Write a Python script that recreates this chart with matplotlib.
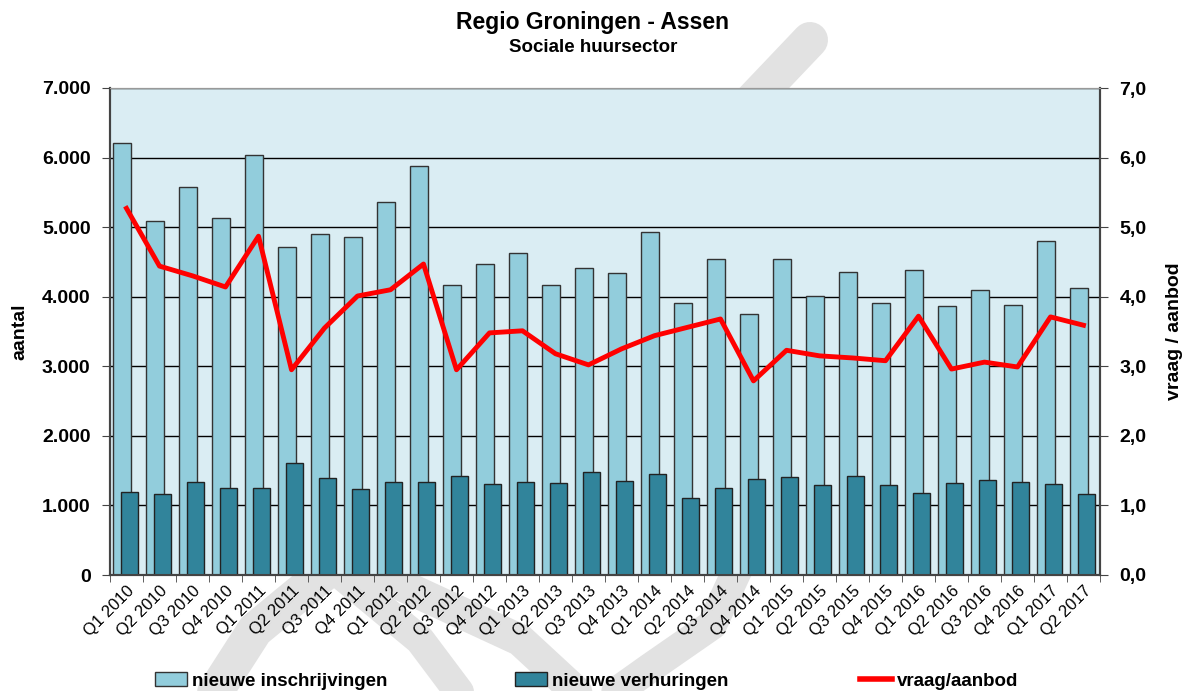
import numpy as np
import matplotlib.pyplot as plt
from matplotlib.lines import Line2D
from matplotlib.patches import Patch
from matplotlib.ticker import FuncFormatter

plt.rcParams['font.family'] = ['Liberation Sans', 'DejaVu Sans']

quarters = ["Q1 2010", "Q2 2010", "Q3 2010", "Q4 2010", "Q1 2011", "Q2 2011", "Q3 2011", "Q4 2011",
            "Q1 2012", "Q2 2012", "Q3 2012", "Q4 2012", "Q1 2013", "Q2 2013", "Q3 2013", "Q4 2013",
            "Q1 2014", "Q2 2014", "Q3 2014", "Q4 2014", "Q1 2015", "Q2 2015", "Q3 2015", "Q4 2015",
            "Q1 2016", "Q2 2016", "Q3 2016", "Q4 2016", "Q1 2017", "Q2 2017"]

inschrijvingen = [6210, 5090, 5580, 5130, 6030, 4710, 4900, 4860, 5360, 5880,
                  4170, 4470, 4630, 4170, 4410, 4340, 4930, 3910, 4540, 3750,
                  4540, 4010, 4360, 3910, 4380, 3870, 4100, 3880, 4800, 4130]

verhuringen = [1200, 1160, 1330, 1255, 1255, 1610, 1395, 1235, 1330, 1330,
               1430, 1310, 1340, 1320, 1480, 1350, 1450, 1110, 1250, 1375,
               1410, 1290, 1430, 1290, 1180, 1320, 1360, 1340, 1310, 1160]

vraag_aanbod = [5.27, 4.44, 4.30, 4.14, 4.87, 2.95, 3.55, 4.01, 4.10, 4.47,
                2.95, 3.48, 3.51, 3.18, 3.02, 3.25, 3.44, 3.56, 3.68, 2.79,
                3.23, 3.15, 3.12, 3.08, 3.72, 2.96, 3.06, 2.99, 3.71, 3.59]

light = "#92CDDC"
dark = "#31849B"
bg = "#DAEDF3"
W, H = 1183, 691

fig = plt.figure(figsize=(W / 100, H / 100), dpi=100)
ax = fig.add_axes([110 / W, 1 - 575 / H, 990 / W, 487 / H])
ax2 = ax.twinx()

# grey watermark strokes behind the plot area (pixel coords from top-left)
strokes = [
    ([(810, 40), (520, 345), (340, 560), (255, 630), (210, 700)], 36),
    ([(338, 572), (420, 640), (465, 700)], 30),
    ([(373, 572), (520, 640), (585, 700)], 32),
    ([(742, 560), (712, 625), (650, 668), (605, 700)], 30),
]
for pts, w in strokes:
    xs = [p[0] / W for p in pts]
    ys = [1 - p[1] / H for p in pts]
    fig.add_artist(Line2D(xs, ys, transform=fig.transFigure, color="#E2E2E2",
                          lw=w * 0.72, solid_capstyle="round", solid_joinstyle="round", zorder=-5))

x = np.arange(len(quarters))
ax.set_facecolor(bg)
ax.bar(x - 0.13, inschrijvingen, width=0.55, color=light, edgecolor="#333333", lw=1, zorder=2)
ax.bar(x + 0.10, verhuringen, width=0.52, color=dark, edgecolor="#222222", lw=1, zorder=3)
ax2.plot(x, vraag_aanbod, color="#FF0000", lw=3.5, zorder=4)

ax.set_xlim(-0.5, len(quarters) - 0.5)
ax.set_ylim(0, 7000)
ax2.set_ylim(0, 7)
ax.set_yticks(np.arange(0, 7001, 1000))
ax2.set_yticks(np.arange(0, 7.01, 1))
ax.yaxis.grid(True, color="black", lw=1)
ax.set_axisbelow(True)
ax.yaxis.set_major_formatter(FuncFormatter(lambda v, p: f"{int(v):,}".replace(",", ".")))
ax2.yaxis.set_major_formatter(FuncFormatter(lambda v, p: f"{v:.1f}".replace(".", ",")))

ax.set_xticks(x)
ax.set_xticks(np.arange(-0.5, len(quarters), 1), minor=True)
ax.set_xticklabels(quarters, rotation=45, ha="right", rotation_mode="anchor", fontsize=12)
ax.tick_params(axis="x", which="major", length=0, pad=6)
ax.tick_params(axis="x", which="minor", length=5, color="#444444")
ax.tick_params(axis="y", length=6, color="#444444", labelsize=14, pad=8)
ax2.tick_params(axis="y", length=6, color="#444444", labelsize=14, pad=8)
for lab in ax.get_yticklabels() + ax2.get_yticklabels():
    lab.set_fontweight("bold")

for a in (ax, ax2):
    for s in ("left", "right", "bottom"):
        a.spines[s].set_color("#444444")
        a.spines[s].set_linewidth(1.5)
    a.spines["top"].set_color("#999999")

ax.set_ylabel("aantal", fontsize=14, fontweight="bold", labelpad=10)
ax2.set_ylabel("vraag / aanbod", fontsize=14, fontweight="bold", labelpad=14)

fig.text(593 / W, 1 - 22 / H, "Regio Groningen - Assen", ha="center", va="center",
         fontsize=16.5, fontweight="bold")
fig.text(593 / W, 1 - 47 / H, "Sociale huursector", ha="center", va="center",
         fontsize=13.5, fontweight="bold")

entries = [
    (Patch(facecolor=light, edgecolor="#333333"), "nieuwe inschrijvingen", 155),
    (Patch(facecolor=dark, edgecolor="#222222"), "nieuwe verhuringen", 515),
    (Line2D([], [], color="#FF0000", lw=4), "vraag/aanbod", 860),
]
for h, t, px in entries:
    fig.legend([h], [t], loc="center left", bbox_to_anchor=(px / W, 1 - 681 / H),
               frameon=False, handlelength=1.7, handletextpad=0.25, borderaxespad=0,
               borderpad=0, prop={"weight": "bold", "size": 13.5})

fig.savefig("out.png", dpi=100)
